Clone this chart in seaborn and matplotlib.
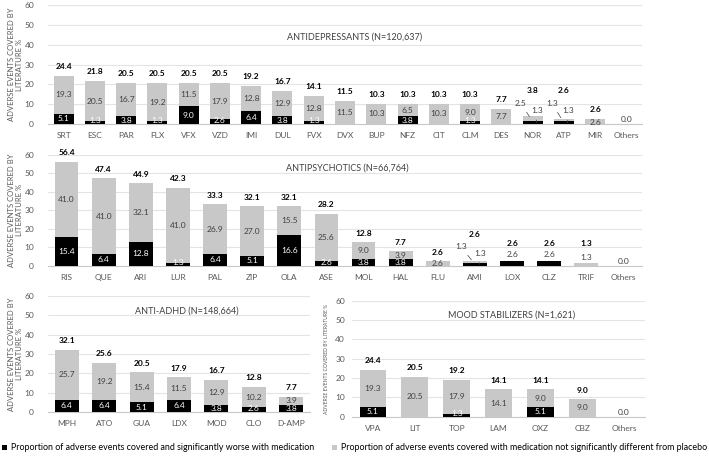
import matplotlib
matplotlib.use("Agg")
import matplotlib.pyplot as plt
import seaborn as sns
import pandas as pd
from matplotlib.patches import Patch

# ---------------- data ----------------
ad_cats = ["SRT", "ESC", "PAR", "FLX", "VFX", "VZD", "IMI", "DUL", "FVX", "DVX",
           "BUP", "NFZ", "CIT", "CLM", "DES", "NOR", "ATP", "MIR", "Others"]
ad_sig = [5.1, 1.3, 3.8, 1.3, 9.0, 2.6, 6.4, 3.8, 1.3, 0.0,
          0.0, 3.8, 0.0, 1.3, 0.0, 1.3, 1.3, 0.0, 0.0]
ad_ns = [19.3, 20.5, 16.7, 19.2, 11.5, 17.9, 12.8, 12.9, 12.8, 11.5,
         10.3, 6.5, 10.3, 9.0, 7.7, 2.5, 1.3, 2.6, 0.0]

ap_cats = ["RIS", "QUE", "ARI", "LUR", "PAL", "ZIP", "OLA", "ASE", "MOL", "HAL",
           "FLU", "AMI", "LOX", "CLZ", "TRIF", "Others"]
ap_sig = [15.4, 6.4, 12.8, 1.3, 6.4, 5.1, 16.6, 2.6, 3.8, 3.8,
          0.0, 1.3, 2.6, 2.6, 0.0, 0.0]
ap_ns = [41.0, 41.0, 32.1, 41.0, 26.9, 27.0, 15.5, 25.6, 9.0, 3.9,
         2.6, 1.3, 0.0, 0.0, 1.3, 0.0]

adhd_cats = ["MPH", "ATO", "GUA", "LDX", "MOD", "CLO", "D-AMP"]
adhd_sig = [6.4, 6.4, 5.1, 6.4, 3.8, 2.6, 3.8]
adhd_ns = [25.7, 19.2, 15.4, 11.5, 12.9, 10.2, 3.9]

ms_cats = ["VPA", "LIT", "TOP", "LAM", "OXZ", "CBZ", "Others"]
ms_sig = [5.1, 0.0, 1.3, 0.0, 5.1, 0.0, 0.0]
ms_ns = [19.3, 20.5, 17.9, 14.1, 9.0, 9.0, 0.0]

titles = ["ANTIDEPRESSANTS (N=120,637)", "ANTIPSYCHOTICS (N=66,764)",
          "ANTI-ADHD (N=148,664)", "MOOD STABILIZERS (N=1,621)"]
legend_labels = ["Proportion of adverse events covered and significantly worse with medication",
                 "Proportion of adverse events covered with medication not significantly different from placebo"]
ylabel2 = "ADVERSE EVENTS COVERED BY\nLITERATURE %"
ylabel1 = "ADVERSE EVENTS COVERED BY LITERATURE %"

# ---------------- style ----------------
sns.set_theme(style="white")
plt.rcParams["font.family"] = ["Lato", "DejaVu Sans"]

GRAY = "#c8c8c8"
BLACK = "#000000"
TXT = "#404040"
TICK = "#595959"
GRID = "#e4e4e4"
W, H = 709, 457

fig = plt.figure(figsize=(W / 100, H / 100), dpi=100)


def rect(x0, x1, ytop, ybot):
    return [x0 / W, (H - ybot) / H, (x1 - x0) / W, (ybot - ytop) / H]


def label_bars(ax, sig, ns, fs=6):
    for i, (s, g) in enumerate(zip(sig, ns)):
        t = round(s + g, 1)
        if t == 0:
            ax.text(i, 0.4, "0.0", ha="center", va="bottom", fontsize=fs, color=TXT)
            continue
        small_s = 0 < s < 3
        small_g = 0 < g < 3.5
        if small_s and small_g:
            ax.annotate(f"{g:.1f}", xy=(i - 0.05, s + g / 2), xytext=(i - 0.38, 10.5),
                        ha="center", va="center", fontsize=fs, color=TXT,
                        arrowprops=dict(arrowstyle="-", color=TXT, lw=0.5))
            ax.annotate(f"{s:.1f}", xy=(i + 0.12, s / 2), xytext=(i + 0.15, 6.8),
                        ha="center", va="center", fontsize=fs, color=TXT,
                        arrowprops=dict(arrowstyle="-", color=TXT, lw=0.5))
            ax.text(i, 17, f"{t:.1f}", ha="center", va="center", fontsize=fs,
                    color="black", fontweight="bold")
            continue
        # significant segment
        if s >= 3:
            ax.text(i, s / 2, f"{s:.1f}", ha="center", va="center", fontsize=fs, color="white")
        elif s > 0 and g >= 3.5:
            ax.text(i, 1.7, f"{s:.1f}", ha="center", va="center", fontsize=fs, color="white")
        elif s > 0 and g == 0:
            ax.text(i, s + 3.2, f"{s:.1f}", ha="center", va="center", fontsize=fs, color=TXT)
        # non-significant segment
        if g >= 3.5:
            ax.text(i, s + g / 2, f"{g:.1f}", ha="center", va="center", fontsize=fs, color=TXT)
        elif g >= 2:
            ax.text(i, g / 2 - 0.3, f"{g:.1f}", ha="center", va="center", fontsize=fs, color=TXT)
        elif g > 0:
            ax.text(i, g + 3.0, f"{g:.1f}", ha="center", va="center", fontsize=fs, color=TXT)
        # total
        if g == 0 and s > 0:
            ty = s + 9.5
        elif g > 0 and g < 2 and s == 0:
            ty = t + 10.5
        else:
            ty = t + 4.8
        ax.text(i, ty, f"{t:.1f}", ha="center", va="center", fontsize=fs,
                color="black", fontweight="bold")


def panel(r, cats, sig, ns, title, title_xy, ylabel, ylfs, ylx, ypad=10):
    ax = fig.add_axes(r)
    df = pd.DataFrame({"cat": cats, "sig": sig, "ns": ns})
    df["total"] = df["sig"] + df["ns"]
    sns.barplot(data=df, x="cat", y="total", order=cats, color=GRAY, saturation=1,
                width=0.64, ax=ax, linewidth=0, zorder=2)
    sns.barplot(data=df, x="cat", y="sig", order=cats, color=BLACK, saturation=1,
                width=0.64, ax=ax, linewidth=0, zorder=3)
    ax.set_ylim(0, 60)
    ax.set_xlim(-0.5, len(cats) - 0.5)
    ax.set_yticks(range(0, 61, 10))
    ax.yaxis.grid(True, color=GRID, lw=0.8, zorder=0)
    ax.set_axisbelow(True)
    for sp in ["top", "right", "left"]:
        ax.spines[sp].set_visible(False)
    ax.spines["bottom"].set_color("#c8c8c8")
    ax.spines["bottom"].set_linewidth(0.8)
    ax.tick_params(axis="both", length=0, labelsize=6, colors=TICK, pad=6)
    ax.tick_params(axis="y", pad=ypad)
    ax.set_xlabel("")
    ax.set_ylabel("")
    ax.text(ylx, 0.5, ylabel, transform=ax.transAxes,
            rotation=90, ha="center", va="center", fontsize=ylfs, color=TICK,
            linespacing=1.1)
    ax.text(title_xy[0], title_xy[1], title, ha="center", va="center",
            fontsize=6.5, color=TXT)
    label_bars(ax, sig, ns)
    return ax


ax1 = panel(rect(48, 642, 5, 124), ad_cats, ad_sig, ad_ns, titles[0], (9.3, 44),
            ylabel2, 5.5, -0.055)
ax2 = panel(rect(48, 642, 155, 265.7), ap_cats, ap_sig, ap_ns, titles[1], (7.55, 53),
            ylabel2, 5.5, -0.055)
ax3 = panel(rect(48, 310, 296, 412), adhd_cats, adhd_sig, adhd_ns, titles[2], (3.2, 52),
            ylabel2, 5.5, -0.125)
ax4 = panel(rect(352, 645, 300.7, 416.7), ms_cats, ms_sig, ms_ns, titles[3], (3.32, 52.6),
            ylabel1, 3.6, -0.088, ypad=5)

handles = [Patch(facecolor=BLACK, edgecolor="none"), Patch(facecolor=GRAY, edgecolor="none")]
fig.legend(handles, legend_labels, ncol=2, loc="center", bbox_to_anchor=(0.5, 1 - 448 / H),
           frameon=False, fontsize=6.4, handlelength=0.6, handleheight=0.6,
           handletextpad=0.4, columnspacing=2.0, labelcolor="black")

fig.savefig("out.png", dpi=100)
